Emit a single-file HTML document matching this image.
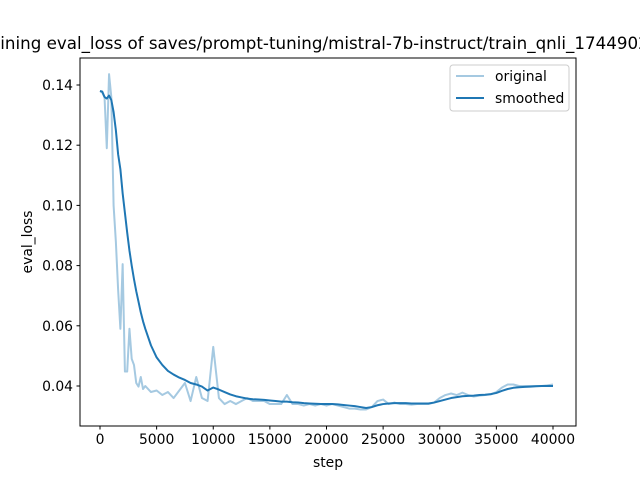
<!DOCTYPE html>
<html><head><meta charset="utf-8"><style>
body{margin:0;background:#fff;}
svg text{font-family:"DejaVu Sans","Liberation Sans",sans-serif;}
</style></head><body>
<svg id="chart" width="640" height="480" xmlns="http://www.w3.org/2000/svg">
<rect width="640" height="480" fill="#fff"/>
<text x="328" y="49" font-size="16.7" text-anchor="middle">Training eval_loss of saves/prompt-tuning/mistral-7b-instruct/train_qnli_1744902584</text>
<g id="plot"></g>
<rect x="80" y="58" width="496" height="368" fill="none" stroke="#000" stroke-width="1"/>
<text x="328" y="467" font-size="13.9" text-anchor="middle">step</text>
<text transform="translate(32,242) rotate(-90)" font-size="13.9" text-anchor="middle">eval_loss</text>
<g>
<rect x="450" y="65" width="119" height="46" rx="3" fill="#fff" fill-opacity="0.8" stroke="#ccc"/>
<line x1="456" y1="76" x2="484" y2="76" stroke="#1f77b4" stroke-opacity="0.4" stroke-width="2"/>
<text x="495" y="81" font-size="13.9">original</text>
<line x1="456" y1="98" x2="484" y2="98" stroke="#1f77b4" stroke-width="2"/>
<text x="495" y="103" font-size="13.9">smoothed</text>
</g>
</svg>
<script>
const steps=[0,200,400,600,800,1000,1200,1400,1600,1800,2000,2200,2400,2600,2800,3000,3200,3400,3600,3800,4000,4500,5000,5500,6000,6500,7000,7500,8000,8500,9000,9500,10000,10500,11000,11500,12000,12500,13000,13500,14000,14500,15000,15500,16000,16500,17000,17500,18000,18500,19000,19500,20000,20500,21000,21500,22000,22500,23000,23500,24000,24500,25000,25500,26000,26500,27000,27500,28000,28500,29000,29500,30000,30500,31000,31500,32000,32500,33000,33500,34000,34500,35000,35500,36000,36500,37000,37500,38000,38500,39000,39500,40000];
const originalVals=[0.138,0.1375,0.136,0.119,0.1436,0.136,0.10,0.088,0.072,0.059,0.0805,0.0448,0.0448,0.059,0.049,0.047,0.041,0.0398,0.043,0.039,0.040,0.038,0.0385,0.037,0.038,0.036,0.0385,0.041,0.035,0.043,0.036,0.035,0.053,0.036,0.034,0.035,0.034,0.035,0.036,0.035,0.035,0.035,0.034,0.034,0.034,0.037,0.034,0.034,0.0335,0.034,0.0335,0.034,0.0335,0.034,0.0335,0.033,0.0325,0.0325,0.0322,0.0322,0.033,0.035,0.0355,0.034,0.0345,0.034,0.034,0.0338,0.034,0.034,0.034,0.0345,0.036,0.037,0.0375,0.037,0.0378,0.037,0.0365,0.0368,0.037,0.0372,0.038,0.0395,0.0405,0.0405,0.04,0.04,0.04,0.04,0.04,0.0402,0.0405];
const smoothedVals=[0.138,0.1378,0.136,0.1355,0.1365,0.135,0.131,0.125,0.117,0.112,0.104,0.0975,0.091,0.085,0.080,0.0755,0.0715,0.068,0.0645,0.0615,0.059,0.0535,0.0495,0.047,0.045,0.0438,0.0428,0.042,0.041,0.0405,0.0398,0.0385,0.0395,0.0388,0.038,0.0372,0.0366,0.0362,0.0358,0.0356,0.0355,0.0354,0.0352,0.035,0.0348,0.0348,0.0346,0.0345,0.0343,0.0342,0.0341,0.034,0.034,0.034,0.0339,0.0337,0.0335,0.0333,0.033,0.0327,0.033,0.0336,0.034,0.0342,0.0343,0.0343,0.0343,0.0342,0.0342,0.0342,0.0342,0.0345,0.035,0.0355,0.036,0.0363,0.0366,0.0367,0.0368,0.037,0.0371,0.0373,0.0377,0.0384,0.039,0.0394,0.0396,0.0397,0.0398,0.0399,0.04,0.04,0.04];
const xTicks=[0,5000,10000,15000,20000,25000,30000,35000,40000];
const yTicks=[0.04,0.06,0.08,0.10,0.12,0.14];
const yTickLabels=["0.04","0.06","0.08","0.10","0.12","0.14"];

const NS="http://www.w3.org/2000/svg";
const X=s=>100+s*(453/40000);
const Y=v=>386-(v-0.04)*(60.2/0.02);
const g=document.getElementById('plot');
function mk(t,a){const e=document.createElementNS(NS,t);for(const k in a)e.setAttribute(k,a[k]);g.appendChild(e);return e;}
xTicks.forEach(t=>{
  const l=mk('line',{x1:X(t),x2:X(t),y1:426,y2:429.5,stroke:'#000'});
  
  
  const tx=mk('text',{x:X(t),y:444,'font-size':13.9,'text-anchor':'middle'});
  tx.textContent=String(t);
  
  
});
yTicks.forEach((t,i)=>{
  const l=mk('line',{x1:76.5,x2:80,y1:Y(t),y2:Y(t),stroke:'#000'});
  
  
  const tx=mk('text',{x:73,y:Y(t)+5,'font-size':13.9,'text-anchor':'end'});
  tx.textContent=yTickLabels[i];
  
  
});
const p1=mk('polyline',{points:steps.map((s,i)=>X(s)+','+Y(originalVals[i])).join(' '),fill:'none',stroke:'#1f77b4','stroke-opacity':0.4,'stroke-width':2,'stroke-linejoin':'round'});


const p2=mk('polyline',{points:steps.map((s,i)=>X(s)+','+Y(smoothedVals[i])).join(' '),fill:'none',stroke:'#1f77b4','stroke-width':2,'stroke-linejoin':'round'});


</script>
</body></html>
